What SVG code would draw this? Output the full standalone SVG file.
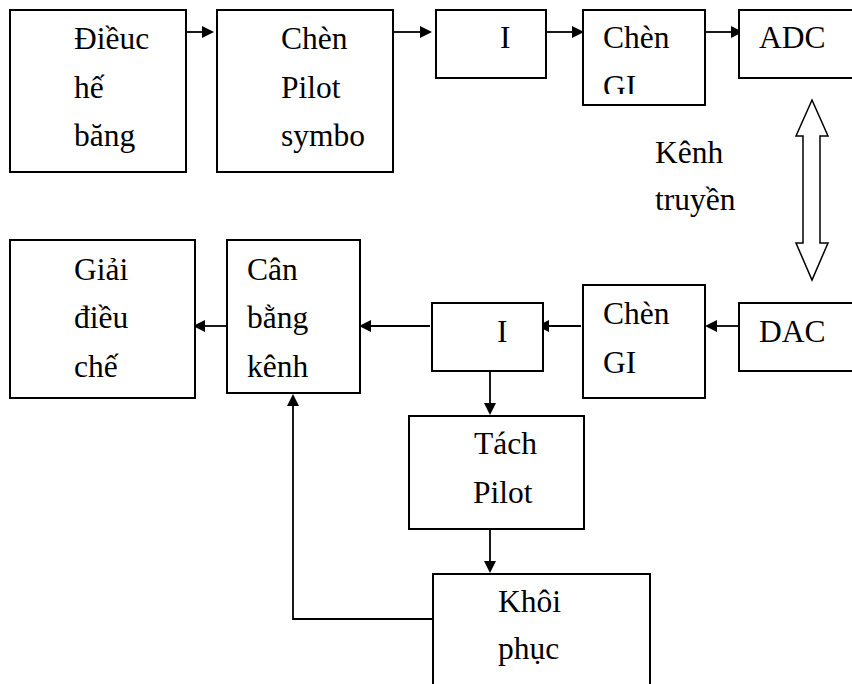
<svg xmlns="http://www.w3.org/2000/svg" width="852" height="684" viewBox="0 0 852 684">
<style>
.box{fill:#fff;stroke:#000;stroke-width:2}
text{font-family:"Liberation Serif","Times New Roman",Tinos,"Nimbus Roman","Noto Serif","DejaVu Serif",serif;font-size:31.5px;fill:#000}
.c{fill:none;stroke:#000;stroke-width:1.8}
.h{fill:#000;stroke:none}
</style>
<defs>
<clipPath id="gi"><rect x="583" y="10" width="122" height="84"/></clipPath>
</defs>
<rect width="852" height="684" fill="#fff"/>
<g id="connectors">
<line class="c" x1="186" y1="32" x2="203" y2="32"/><polygon class="h" points="202,26 214,32 202,38"/>
<line class="c" x1="393" y1="32" x2="421" y2="32"/><polygon class="h" points="420,26 432,32 420,38"/>
<line class="c" x1="546" y1="32" x2="573" y2="32"/><polygon class="h" points="572,26 584,32 572,38"/>
<line class="c" x1="705" y1="32" x2="732" y2="32"/><polygon class="h" points="731,26 743,32 731,38"/>
<line class="c" x1="739" y1="326" x2="716" y2="326"/><polygon class="h" points="717,320 705,326 717,332"/>
<line class="c" x1="581" y1="326" x2="548" y2="326"/><polygon class="h" points="549,320 537,326 549,332"/>
<line class="c" x1="430" y1="326" x2="370" y2="326"/><polygon class="h" points="371,320 359,326 371,332"/>
<line class="c" x1="227" y1="326" x2="204" y2="326"/><polygon class="h" points="205,320 193,326 205,332"/>
<line class="c" x1="490" y1="371" x2="490" y2="404"/><polygon class="h" points="484,403 490,415 496,403"/>
<line class="c" x1="490" y1="529" x2="490" y2="562"/><polygon class="h" points="484,561 490,573 496,561"/>
<polyline class="c" points="433,619 293,619 293,405"/><polygon class="h" points="287,406 293,394 299,406"/>
<polygon points="812,100 828,136 820,136 820,243 828,243 812,280 796,243 803,243 803,136 796,136" fill="#fff" stroke="#000" stroke-width="1.5"/>
</g>
<g id="dieu-che">
<rect class="box" x="10" y="10" width="176" height="162"/>
<text x="74" y="49">Điềuc</text>
<text x="74" y="98">hế</text>
<text x="74" y="146">băng</text>
</g>
<g id="chen-pilot">
<rect class="box" x="217" y="10" width="176" height="162"/>
<text x="281" y="49">Chèn</text>
<text x="281" y="98">Pilot</text>
<text x="281" y="146">symbo</text>
</g>
<g id="i-top">
<rect class="box" x="436" y="10" width="110" height="68"/>
<text x="500" y="48">I</text>
</g>
<g id="chen-gi-top">
<rect class="box" x="583" y="10" width="122" height="95"/>
<text x="603" y="48">Chèn</text>
<text x="603" y="97" clip-path="url(#gi)">GI</text>
</g>
<g id="adc">
<rect class="box" x="739" y="10" width="120" height="68"/>
<text x="759" y="48">ADC</text>
</g>
<g id="kenh-truyen">
<text x="655" y="163">Kênh</text>
<text x="655" y="210">truyền</text>
</g>
<g id="giai-dieu-che">
<rect class="box" x="10" y="240" width="185" height="158"/>
<text x="74" y="280">Giải</text>
<text x="74" y="328">điều</text>
<text x="74" y="377">chế</text>
</g>
<g id="can-bang">
<rect class="box" x="227" y="240" width="133" height="153"/>
<text x="247" y="280">Cân</text>
<text x="247" y="328">bằng</text>
<text x="247" y="377">kênh</text>
</g>
<g id="i-bottom">
<rect class="box" x="432" y="303" width="111" height="68"/>
<text x="497" y="342">I</text>
</g>
<g id="chen-gi-bottom">
<rect class="box" x="583" y="285" width="122" height="113"/>
<text x="603" y="324">Chèn</text>
<text x="603" y="373">GI</text>
</g>
<g id="dac">
<rect class="box" x="739" y="303" width="120" height="68"/>
<text x="759" y="342">DAC</text>
</g>
<g id="tach-pilot">
<rect class="box" x="409" y="416" width="175" height="113"/>
<text x="474" y="454">Tách</text>
<text x="473" y="503">Pilot</text>
</g>
<g id="khoi-phuc">
<rect class="box" x="433" y="574" width="217" height="130"/>
<text x="498" y="612">Khôi</text>
<text x="498" y="659">phục</text>
</g>
</svg>
